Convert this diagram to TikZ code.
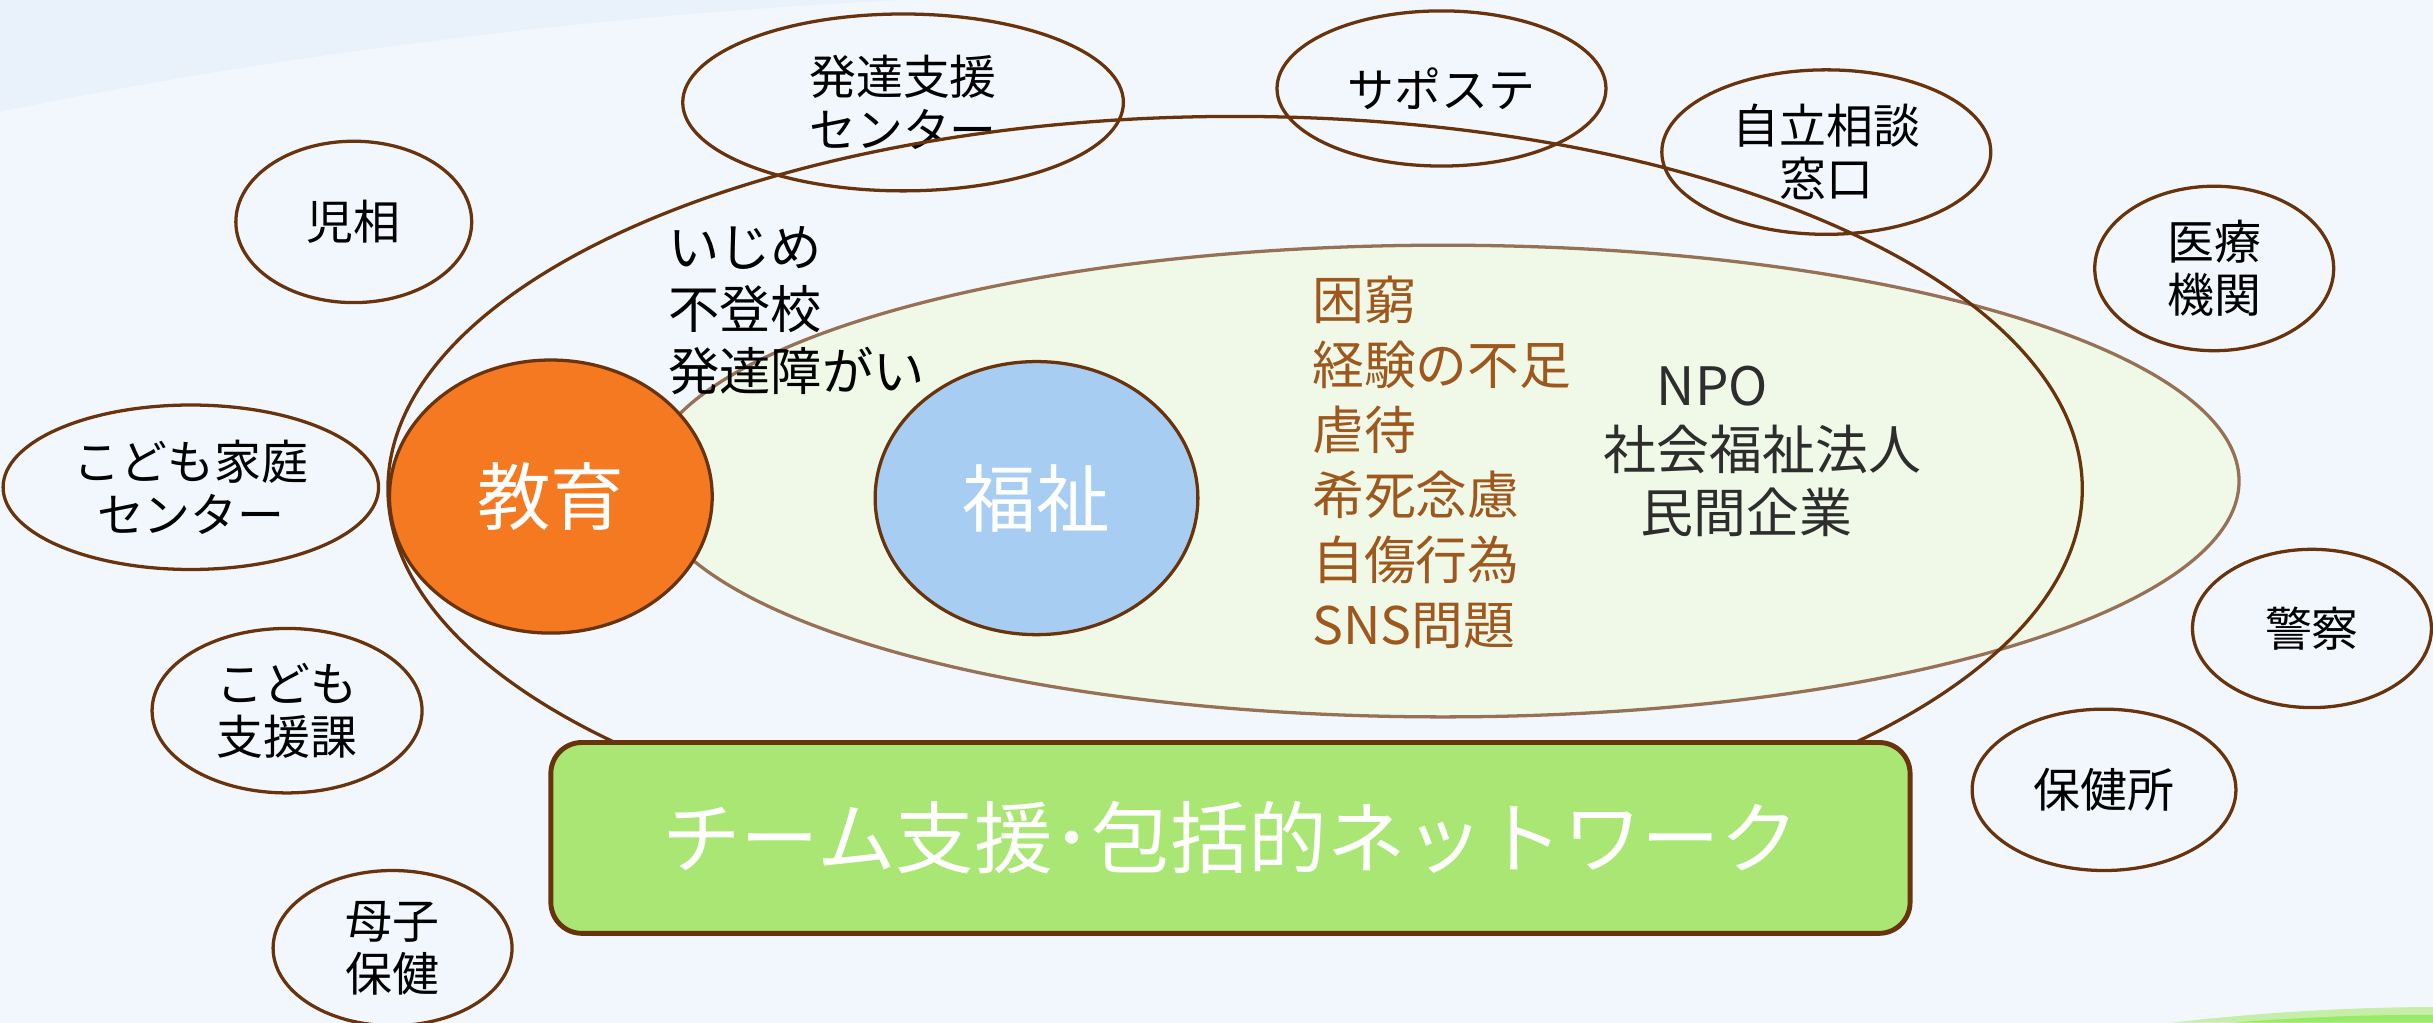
\documentclass[tikz,border=0pt]{standalone}
\usepackage{fontspec}
\setmainfont{Noto Sans CJK JP}
\usepackage{tikz}
\usetikzlibrary{shapes.geometric}
\definecolor{fondo}{RGB}{242,247,253}
\definecolor{fondoOscuro}{RGB}{233,241,250}
\definecolor{chairo}{RGB}{105,52,12}
\definecolor{daidai}{RGB}{244,121,32}
\definecolor{mizuiro}{RGB}{168,205,242}
\definecolor{usumidori}{RGB}{240,248,231}
\definecolor{midori}{RGB}{170,230,115}
\definecolor{kogecha}{RGB}{158,88,30}
\definecolor{sumi}{RGB}{45,45,45}
\tikzstyle{agency}=[ellipse, draw=chairo, line width=0.6pt, inner sep=0pt,
                    align=center, font=\fontsize{8.6pt}{9.8pt}\selectfont]
\tikzstyle{field} =[ellipse, draw=chairo, line width=0.6pt, inner sep=0pt,
                    text=white, font=\fontsize{13.5pt}{15pt}\selectfont]
\tikzstyle{issues}=[anchor=west, align=left, inner sep=0pt]

\begin{document}
\begin{tikzpicture}[x=0.1mm,y=-0.1mm]
    \useasboundingbox (0,0) rectangle (1568,659);
    \fill[fondo] (0,0) rectangle (1568,659);
    \fill[fondoOscuro] (0,0) -- (0,72) .. controls (180,35) and (380,10) .. (580,0) -- cycle;
    \fill[midori!60!fondo] (1400,659) .. controls (1470,651) and (1530,649) .. (1568,649) -- (1568,659) -- cycle;
    \fill[midori!90!green] (1440,659) .. controls (1490,655) and (1530,654) .. (1568,654) -- (1568,659) -- cycle;

    % welfare area
    \node (fukushiArea) [ellipse, draw=chairo!70, fill=usumidori, line width=0.6pt, inner sep=0pt,
        minimum width=102.6mm, minimum height=30.4mm] at (930,310) {};
    \node (kyouiku) [field, fill=daidai, minimum width=20.8mm, minimum height=17.6mm] at (355,320) {教育};
    \node (fukushi) [field, fill=mizuiro, minimum width=20.8mm, minimum height=17.6mm] at (668,321) {福祉};

    % agencies around
    \foreach \n/\x/\y/\w/\h/\t in {jisou/228/143/15.2/10.4/{児相},
        hattatsu/582/66/28.4/11.4/{発達支援\\センター},
        saposte/929/57/21.2/10/{サポステ},
        jiritsu/1177/98/21.2/10.6/{自立相談\\窓口},
        iryou/1427/173/15.4/10.6/{医療\\機関},
        kateiC/123/314/24.2/10.6/{こども家庭\\センター},
        shienka/185/458/17.4/10.6/{こども\\支援課},
        boshi/253/611/15.4/10/{母子\\保健},
        keisatsu/1490/405/15.4/10.2/{警察},
        hokenjo/1356/509/17/10.4/{保健所}}
        \node (\n) [agency, minimum width=\w mm, minimum height=\h mm] at (\x,\y) {\t};

    % education area
    \node (kyouikuArea) [ellipse, draw=chairo, line width=0.6pt, inner sep=0pt,
        minimum width=109.2mm, minimum height=48mm] at (796,315) {};

    \node (ijime) [issues, font=\fontsize{9.4pt}{11.4pt}\selectfont] at (430,200) {いじめ\\不登校\\発達障がい};
    \node (konkyu) [issues, text=kogecha, font=\fontsize{9.5pt}{11.95pt}\selectfont] at (845,298)
        {困窮\\経験の不足\\虐待\\希死念慮\\自傷行為\\SNS問題};
    \node (npo) [issues, text=sumi, font=\fontsize{9.7pt}{11.7pt}\selectfont] at (1033,291)
        {\hspace*{1em}NPO\\社会福祉法人\\\hspace*{0.7em}民間企業};

    \node (network) [rounded corners=2mm, draw=chairo, line width=0.9pt, fill=midori,
        minimum width=87.6mm, minimum height=12.3mm, text=white,
        font=\fontsize{14.4pt}{16pt}\selectfont] at (793,540) {チーム支援･包括的ネットワーク};
\end{tikzpicture}
\end{document}
